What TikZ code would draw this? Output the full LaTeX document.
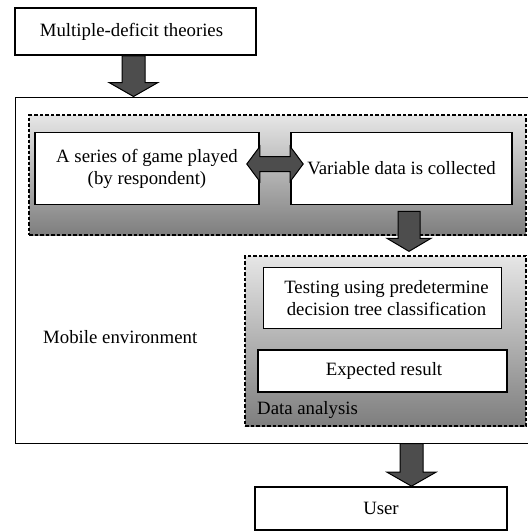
\documentclass[tikz,border=0pt]{standalone}
\usepackage{fontspec}
\setmainfont{Liberation Serif}
\usetikzlibrary{calc}
\definecolor{arrowgray}{HTML}{4D4D4D}
\definecolor{paneltop}{HTML}{E6E6E6}
\definecolor{panelbot}{HTML}{7E7E7E}
\tikzset{
  box/.style={draw, fill=white, line width=1.6pt, inner sep=2pt, align=center, font=\fontsize{18.8}{22}\selectfont},
  panel/.style={draw, dash pattern=on 3.5pt off 2pt, line width=1.3pt, top color=paneltop, bottom color=panelbot},
  outerbox/.style={draw, line width=1pt},
  fatarrow/.style={draw, fill=arrowgray, line width=1pt, line join=miter},
  plain/.style={font=\fontsize{18.8}{22}\selectfont, inner sep=0pt}
}
% vertical block arrow: #1 start, #2 tip, #3 shaft half width, #4 head half width, #5 head length
\newcommand\blockdown[5]{%
  \draw[fatarrow] let \p1=(#1), \p2=(#2) in
    (\x1-#3pt,\y1) -- (\x1+#3pt,\y1) -- (\x1+#3pt,\y2+#5pt) -- (\x1+#4pt,\y2+#5pt)
    -- (\x1,\y2) -- (\x1-#4pt,\y2+#5pt) -- (\x1-#3pt,\y2+#5pt) -- cycle;}
\begin{document}
\begin{tikzpicture}[x=1pt,y=-1pt]
\useasboundingbox (0,0) rectangle (528,531);

% top box
\node[box, minimum width=241pt, minimum height=47pt] (theory) at (135.5,31.5) {Multiple-deficit theories\hspace*{8pt}};

% outer mobile environment box
\node[outerbox, minimum width=515pt, minimum height=346pt] (mobile) at (272.5,270) {};
\node[plain, anchor=west] (mobiletxt) at (43,337) {Mobile environment};

% panels
\node[panel, minimum width=497pt, minimum height=120pt] (panelA) at (277.5,175) {};
\node[panel, minimum width=281pt, minimum height=170pt] (panelB) at (385.5,341) {};
\node[plain, anchor=west] (datatxt) at (257,410) {Data analysis};

% inner boxes
\node[box, minimum width=224pt, minimum height=72pt] (game) at (147,168.5) {A series of game played\\(by respondent)};
\node[box, minimum width=221pt, minimum height=72pt] (collect) at (401.5,168.5) {Variable data is collected};
\node[box, minimum width=238pt, minimum height=61pt] (testing) at (382.5,298) {\hspace*{8pt}Testing using predetermine\\\hspace*{8pt}decision tree classification};
\node[box, minimum width=249pt, minimum height=42pt] (expected) at (382.5,371) {\hspace*{3pt}Expected result};

% user box
\node[box, minimum width=252pt, minimum height=43pt] (user) at (381,508.5) {User};

% arrows
\coordinate (a1s) at (theory.south -| 133.5,0);
\coordinate (a1e) at (mobile.north -| 133.5,0);
\blockdown{a1s}{a1e}{11.5}{24.5}{14}

\coordinate (a2s) at ($(collect.south -| 409,0)+(0,6)$);
\coordinate (a2e) at ($(panelB.north -| 409,0)+(0,-4)$);
\blockdown{a2s}{a2e}{11}{22}{13}

\coordinate (a3s) at (mobile.south -| 411.5,0);
\coordinate (a3e) at (user.north -| 411.5,0);
\blockdown{a3s}{a3e}{11.5}{24.5}{14}

% double arrow between game and collect
\draw[fatarrow] let \p1=(game.east), \p2=(collect.west) in
  (\x1,\y1+12pt) -- (\x1,\y1+22pt) -- (\x1-13pt,\y1+4.5pt) -- (\x1,\y1-13pt) -- (\x1,\y1-3pt)
  -- (\x2,\y1-3pt) -- (\x2,\y1-13pt) -- (\x2+13pt,\y1+4.5pt) -- (\x2,\y1+22pt) -- (\x2,\y1+12pt) -- cycle;
\end{tikzpicture}
\end{document}
